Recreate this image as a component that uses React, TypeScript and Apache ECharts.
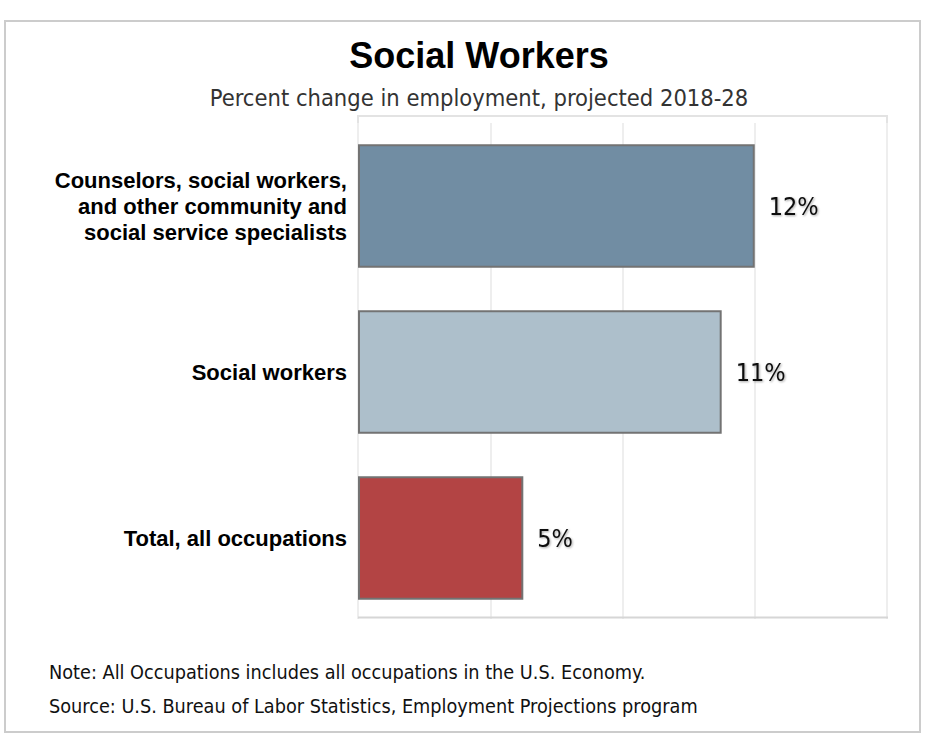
import React, { useEffect, useRef } from "react";
import * as echarts from "echarts";

const categories = [
  "Counselors, social workers,\nand other community and\nsocial service specialists",
  "Social workers",
  "Total, all occupations",
];
const values = [12, 11, 5];
const barColors = ["#718DA3", "#ADBFCB", "#B34444"];
const titleText = "Social Workers";
const subtitleText = "Percent change in employment, projected 2018-28";
const noteLines = [
  "Note: All Occupations includes all occupations in the U.S. Economy.",
  "Source: U.S. Bureau of Labor Statistics, Employment Projections program",
];

const bodyFont = "'DejaVu Sans Condensed', 'DejaVu Sans', sans-serif";
const boldFont = "'Liberation Sans', Arial, sans-serif";

export default function App() {
  const ref = useRef<HTMLDivElement>(null);
  useEffect(() => {
    document.body.style.margin = "0";
    const chart = echarts.init(ref.current!, undefined, { renderer: "svg" });
    chart.setOption({
      animation: false,
      backgroundColor: "#ffffff",
      grid: {
        left: 358,
        right: 41,
        top: 123,
        bottom: 121,
        show: false,
      },
      xAxis: {
        type: "value",
        min: 0,
        max: 16,
        interval: 4,
        axisLabel: { show: false },
        axisTick: { show: false },
        axisLine: { show: false },
        splitLine: { show: true, lineStyle: { color: "#eeeeee", width: 2 } },
      },
      yAxis: {
        type: "category",
        data: categories,
        inverse: true,
        axisTick: { show: false },
        axisLine: { show: false },
        axisLabel: {
          margin: 11,
          fontFamily: boldFont,
          fontWeight: "bold",
          fontSize: 22,
          lineHeight: 26,
          color: "#000000",
          align: "right",
        },
      },
      graphic: [
        {
          type: "rect",
          shape: { x: 5, y: 21, width: 915, height: 711 },
          style: { fill: "none", stroke: "#cccccc", lineWidth: 2 },
          silent: true,
        },
        {
          type: "polyline",
          shape: { points: [[358, 617], [358, 116], [887, 116], [887, 617]] },
          style: { fill: "none", stroke: "#e3e3e3", lineWidth: 2 },
          silent: true,
          z: 0,
        },
        {
          type: "rect",
          shape: { x: 340, y: 619, width: 560, height: 6 },
          style: { fill: "#ffffff" },
          silent: true,
          z: 5,
        },
        {
          type: "line",
          shape: { x1: 358, y1: 617.5, x2: 888, y2: 617.5 },
          style: { stroke: "#d6d6d6", lineWidth: 2 },
          silent: true,
          z: 6,
        },
        {
          type: "text",
          x: 479,
          y: 55,
          style: {
            text: titleText,
            fontFamily: boldFont,
            fontWeight: "bold",
            fontSize: 36,
            fill: "#000000",
            align: "center",
            verticalAlign: "middle",
          },
        },
        {
          type: "text",
          x: 479,
          y: 98,
          style: {
            text: subtitleText,
            fontFamily: bodyFont,
            fontSize: 23.5,
            fill: "#333333",
            align: "center",
            verticalAlign: "middle",
          },
        },
        ...noteLines.map((t, i) => ({
          type: "text",
          x: 49,
          y: 672 + i * 34,
          style: {
            text: t,
            fontFamily: bodyFont,
            fontSize: 19.7,
            fill: "#111111",
            align: "left",
            verticalAlign: "middle",
          },
        })),
      ],
      series: [
        {
          type: "bar",
          data: values.map((v, i) => ({
            value: v,
            itemStyle: { color: barColors[i] },
          })),
          barWidth: "74.5%",
          itemStyle: { borderColor: "#737373", borderWidth: 2 },
          label: {
            show: true,
            position: "right",
            distance: 14,
            formatter: "{c}%",
            fontFamily: bodyFont,
            fontSize: 25,
            color: "#111111",
            textShadowColor: "rgba(0,0,0,0.35)",
            textShadowBlur: 2,
            textShadowOffsetX: 1,
            textShadowOffsetY: 1,
          },
        },
      ],
    });
    return () => chart.dispose();
  }, []);
  return <div ref={ref} style={{ width: 928, height: 742 }} />;
}
